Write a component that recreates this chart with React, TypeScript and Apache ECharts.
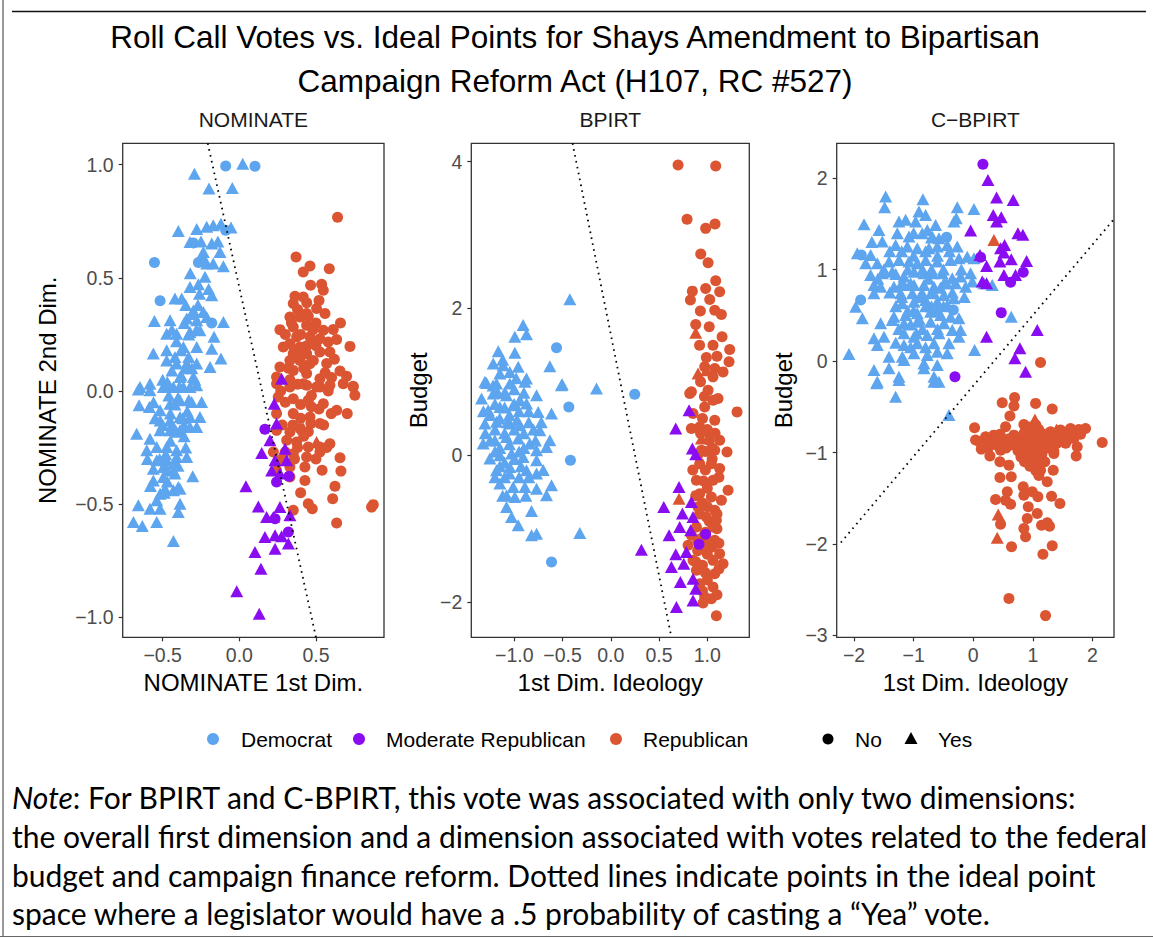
import React, { useEffect, useRef } from "react";
import * as echarts from "echarts";

type Pt = [number, number];

// Party colours
const DEM_COLOR = "#5DA5EE";
const MOD_COLOR = "#8A0CF0";
const REP_COLOR = "#DC5532";

// Axis tick positions
const NOM_X_TICKS = [-0.5, 0, 0.5];
const NOM_Y_TICKS = [-1, -0.5, 0, 0.5, 1];
const BP_X_TICKS = [-1, -0.5, 0, 0.5, 1];
const BP_Y_TICKS = [-2, 0, 2, 4];
const CB_X_TICKS = [-2, -1, 0, 1, 2];
const CB_Y_TICKS = [-3, -2, -1, 0, 1, 2];

const PANEL_TITLES = ["NOMINATE", "BPIRT", "C\u2212BPIRT"];
const X_TITLES = ["NOMINATE 1st Dim.", "1st Dim. Ideology", "1st Dim. Ideology"];
const Y_TITLES = ["NOMINATE 2nd Dim.", "Budget", "Budget"];
const PARTIES = ["Democrat", "Moderate Republican", "Republican"];
const VOTES = ["No", "Yes"];

// ---------- NOMINATE ----------
const NOM_DEM_YES: Pt[] = [
  [0.022, 1.004], [-0.293, 0.96], [-0.198, 0.894], [-0.046, 0.897], [-0.398, 0.707], [-0.278, 0.716],
  [-0.213, 0.725], [-0.17, 0.732], [-0.12, 0.739], [-0.054, 0.722], [-0.322, 0.658], [-0.18, 0.651],
  [-0.235, 0.614], [-0.126, 0.614], [-0.213, 0.563], [-0.17, 0.563], [-0.104, 0.551], [-0.224, 0.504],
  [-0.322, 0.459], [-0.267, 0.471], [-0.18, 0.423], [-0.42, 0.408], [-0.376, 0.408], [-0.3, 0.356],
  [-0.235, 0.349], [-0.554, 0.309], [-0.452, 0.312], [-0.343, 0.32], [-0.278, 0.312], [-0.213, 0.327],
  [-0.104, 0.305], [-0.474, 0.253], [-0.409, 0.253], [-0.322, 0.261], [-0.257, 0.268], [-0.165, 0.239],
  [-0.561, 0.165], [-0.474, 0.18], [-0.365, 0.194], [-0.278, 0.194], [-0.18, 0.187], [-0.474, 0.135],
  [-0.409, 0.121], [-0.343, 0.121], [-0.278, 0.121], [-0.191, 0.106], [-0.12, 0.143], [-0.387, 0.062],
  [-0.3, 0.062], [-0.648, 0.018], [-0.583, 0.032], [-0.496, 0.018], [-0.43, 0.018], [-0.322, 0.018],
  [-0.659, 0.006], [-0.583, 0.003], [-0.452, 0.018], [-0.365, 0.018], [-0.278, 0.025], [-0.654, -0.063],
  [-0.587, -0.071], [-0.517, -0.085], [-0.452, -0.056], [-0.387, -0.041], [-0.311, -0.049], [-0.246, -0.049],
  [-0.517, -0.13], [-0.452, -0.13], [-0.387, -0.115], [-0.322, -0.115], [-0.257, -0.115], [-0.67, -0.189],
  [-0.583, -0.211], [-0.517, -0.174], [-0.452, -0.174], [-0.387, -0.174], [-0.322, -0.159], [-0.278, -0.159],
  [-0.604, -0.262], [-0.539, -0.247], [-0.474, -0.247], [-0.409, -0.262], [-0.539, -0.306], [-0.474, -0.306],
  [-0.409, -0.292], [-0.343, -0.292], [-0.561, -0.343], [-0.496, -0.336], [-0.43, -0.351], [-0.561, -0.395],
  [-0.496, -0.38], [-0.42, -0.365], [-0.304, -0.377], [-0.485, -0.432], [-0.398, -0.424], [-0.517, -0.454],
  [-0.43, -0.439], [-0.387, -0.432], [-0.539, -0.483], [-0.387, -0.498], [-0.659, -0.505], [-0.583, -0.52],
  [-0.517, -0.52], [-0.398, -0.535], [-0.691, -0.579], [-0.633, -0.596], [-0.539, -0.579], [-0.43, -0.663],
  [-0.46, -0.02], [-0.4, -0.03], [-0.34, -0.09], [-0.44, -0.15], [-0.36, -0.2], [-0.48, -0.28],
  [-0.43, -0.32], [-0.38, 0.07], [-0.44, 0.09], [-0.33, 0.15], [-0.41, 0.22], [-0.36, 0.3],
  [-0.3, 0.34], [-0.26, 0.43], [-0.23, 0.58], [-0.29, 0.05], [-0.5, 0.05], [-0.55, -0.12],
  [-0.6, -0.3], [-0.47, -0.4], [-0.42, -0.06], [-0.37, -0.12], [-0.45, -0.1], [-0.5, -0.15],
  [-0.41, -0.18], [-0.35, -0.25], [-0.45, -0.22], [-0.52, -0.3], [-0.47, -0.35], [-0.4, -0.33],
  [-0.33, -0.04], [-0.39, 0.02], [-0.47, 0.04], [-0.35, 0.1], [-0.42, 0.15], [-0.31, 0.1],
  [-0.38, 0.18], [-0.44, 0.27], [-0.33, 0.25], [-0.28, 0.27], [-0.35, 0.38], [-0.27, 0.38],
  [-0.2, 0.45], [-0.32, 0.52], [-0.25, 0.66], [-0.14, 0.66], [-0.56, -0.05], [-0.49, -0.45],
  [-0.58, -0.42], [-0.36, -0.15],
];
const NOM_DEM_NO: Pt[] = [
  [-0.089, 0.994], [0.102, 0.993], [-0.089, 0.71], [-0.3, 0.654], [-0.554, 0.567], [-0.267, 0.567],
  [-0.517, 0.399], [-0.18, 0.3],
];
const NOM_MOD_YES: Pt[] = [
  [0.228, -0.056], [0.243, -0.144], [0.2, -0.218], [0.146, -0.274], [0.298, -0.255], [0.233, -0.306],
  [0.309, -0.306], [0.211, -0.351], [0.265, -0.365], [0.043, -0.421], [0.124, -0.51], [0.265, -0.513],
  [0.33, -0.549], [0.178, -0.557], [0.222, -0.557], [0.167, -0.645], [0.233, -0.637], [0.276, -0.642],
  [0.32, -0.674], [0.233, -0.697], [0.102, -0.711], [0.141, -0.785], [-0.017, -0.885], [0.13, -0.984],
  [0.276, 0.054],
];
const NOM_MOD_NO: Pt[] = [
  [0.167, -0.169], [0.243, -0.402], [0.324, -0.377], [0.233, -0.564], [0.32, -0.623],
];
const NOM_REP_YES: Pt[] = [[0.417, -0.166], [0.504, -0.225]];
const NOM_REP_NO: Pt[] = [
  [0.641, 0.767], [0.37, 0.592], [0.461, 0.552], [0.417, 0.526], [0.587, 0.54], [0.465, 0.467],
  [0.537, 0.471], [0.548, 0.445], [0.363, 0.418], [0.417, 0.415], [0.352, 0.386], [0.504, 0.364],
  [0.559, 0.342], [0.439, 0.342], [0.396, 0.327], [0.33, 0.327], [0.265, 0.271], [0.352, 0.283],
  [0.439, 0.29], [0.548, 0.268], [0.613, 0.272], [0.722, 0.197], [0.635, 0.227], [0.374, 0.239],
  [0.461, 0.239], [0.526, 0.231], [0.33, 0.209], [0.396, 0.194], [0.483, 0.209], [0.58, 0.216],
  [0.287, 0.194], [0.352, 0.165], [0.439, 0.165], [0.526, 0.172], [0.591, 0.172], [0.483, 0.135],
  [0.396, 0.135], [0.33, 0.135], [0.57, 0.121], [0.657, 0.088], [0.7, 0.065], [0.265, 0.106],
  [0.352, 0.091], [0.439, 0.077], [0.526, 0.054], [0.602, 0.059], [0.743, 0.021], [0.243, 0.062],
  [0.33, 0.032], [0.417, 0.032], [0.504, 0.018], [0.243, 0.032], [0.33, 0.018], [0.439, 0.025],
  [0.526, 0.018], [0.591, 0.025], [0.678, 0.032], [0.743, 0.018], [0.754, -0.019], [0.254, -0.027],
  [0.352, -0.034], [0.45, -0.041], [0.548, -0.056], [0.635, -0.085], [0.704, -0.1], [0.243, -0.1],
  [0.352, -0.1], [0.461, -0.115], [0.526, -0.144], [0.243, -0.174], [0.33, -0.181], [0.396, -0.166],
  [0.467, -0.144], [0.309, -0.218], [0.374, -0.225], [0.45, -0.247], [0.526, -0.247], [0.591, -0.233],
  [0.352, -0.277], [0.439, -0.292], [0.526, -0.27], [0.657, -0.295], [0.33, -0.336], [0.428, -0.336],
  [0.663, -0.354], [0.33, -0.38], [0.428, -0.395], [0.624, -0.421], [0.609, -0.476], [0.45, -0.498],
  [0.476, -0.52], [0.352, -0.527], [0.635, -0.583], [0.863, -0.513], [0.874, -0.502], [0.243, -0.351],
  [0.265, -0.306], [0.222, -0.27], [0.4, 0.25], [0.44, 0.2], [0.48, 0.27], [0.36, 0.18],
  [0.42, 0.1], [0.38, 0.03], [0.47, -0.02], [0.52, -0.08], [0.4, -0.06], [0.3, -0.05],
  [0.56, 0.08], [0.45, 0.33], [0.5, 0.3], [0.42, -0.2], [0.36, -0.3], [0.55, -0.15],
  [0.6, -0.1], [0.33, 0.05], [0.3, 0.25], [0.34, 0.3], [0.38, 0.36], [0.44, 0.39],
  [0.5, 0.2], [0.46, 0.12], [0.4, 0.16], [0.32, 0.1], [0.27, 0.0], [0.35, -0.15],
  [0.4, -0.12], [0.47, -0.07], [0.5, -0.3], [0.45, -0.18], [0.38, -0.25], [0.3, -0.27],
  [0.58, 0.0], [0.62, 0.14], [0.66, 0.3], [0.52, 0.4], [0.28, -0.15], [0.54, -0.35],
  [0.4, -0.45], [0.57, -0.25],
];
const NOM_CUT: Pt[] = [[-0.206, 1.094], [0.5, -1.088]];

// ---------- BPIRT ----------
const BP_DEM_YES: Pt[] = [
  [-0.908, 1.773], [-0.994, 1.614], [-0.873, 1.65], [-0.424, 2.127], [-1.166, 1.418], [-0.994, 1.395],
  [-1.218, 1.25], [-1.115, 1.227], [-0.959, 1.205], [-1.149, 1.114], [-1.046, 1.136], [-0.873, 1.045],
  [-0.631, 1.214], [-0.504, 0.968], [-1.287, 0.986], [-0.148, 0.909], [-1.304, 1.0], [-1.184, 0.977],
  [-1.046, 0.977], [-0.89, 1.0], [-0.511, 0.955], [-1.339, 0.773], [-1.218, 0.841], [-1.08, 0.818],
  [-0.942, 0.75], [-0.769, 0.818], [-1.27, 0.614], [-1.149, 0.659], [-1.011, 0.682], [-0.873, 0.705],
  [-0.752, 0.591], [-0.614, 0.568], [-1.304, 0.432], [-1.184, 0.455], [-1.046, 0.432], [-0.942, 0.409],
  [-0.735, 0.341], [-0.631, 0.205], [-1.322, 0.159], [-1.201, 0.205], [-1.08, 0.25], [-0.959, 0.227],
  [-0.839, 0.159], [-0.769, 0.068], [-0.666, 0.114], [-1.253, -0.045], [-1.149, 0.0], [-1.028, 0.023],
  [-0.908, -0.023], [-0.769, -0.068], [-1.184, -0.205], [-1.046, -0.159], [-0.873, -0.205], [-0.769, -0.25],
  [-1.149, -0.386], [-1.011, -0.432], [-0.89, -0.432], [-0.769, -0.455], [-0.666, -0.545], [-0.614, -0.409],
  [-1.08, -0.545], [-0.994, -0.568], [-1.08, -0.705], [-0.821, -0.759], [-1.028, -0.841], [-0.959, -0.955],
  [-0.821, -1.091], [-0.769, -1.068], [-0.321, -1.059], [-1.1, 0.3], [-1.0, 0.35], [-0.95, 0.05],
  [-1.1, -0.1], [-1.15, 0.5], [-1.05, 0.55], [-0.95, 0.6], [-1.2, 0.35], [-1.25, 0.2],
  [-1.15, 0.1], [-1.05, 0.15], [-1.0, -0.05], [-0.9, 0.3], [-0.85, 0.45], [-1.1, -0.3],
  [-0.95, -0.3], [-1.2, 0.7], [-1.0, 0.9], [-1.1, 0.85], [-1.2, 0.05], [-1.3, 0.3],
  [-1.25, 0.55], [-1.1, 0.65], [-1.0, 0.7], [-0.9, 0.85], [-0.85, 0.6], [-0.8, 0.35],
  [-0.78, 0.2], [-0.9, 0.1], [-1.05, -0.25], [-1.15, -0.15], [-0.93, -0.15], [-0.85, -0.3],
  [-1.2, -0.3], [-1.07, 0.45], [-1.17, 0.85], [-1.22, 0.95], [-1.32, 0.6], [-0.97, 0.48],
  [-0.88, -0.55], [-1.12, -0.55], [-0.72, 0.45], [-0.7, -0.2], [-0.98, 1.05], [-1.12, 1.3],
];
const BP_DEM_NO: Pt[] = [
  [0.248, 0.832], [-0.435, 0.659], [-0.418, -0.068], [-0.614, -1.455], [-0.562, 1.464],
];
const BP_MOD_YES: Pt[] = [
  [0.811, 0.614], [0.673, 0.364], [0.845, 0.091], [0.88, 0.014], [0.707, -0.432], [0.549, -0.705],
  [0.835, -0.636], [0.742, -0.795], [0.852, -0.841], [0.714, -0.977], [0.828, -1.023], [0.604, -1.091],
  [0.317, -1.286], [0.673, -1.35], [0.783, -1.318], [0.628, -1.523], [0.756, -1.477], [0.852, -1.682],
  [0.721, -1.727], [0.88, -1.818], [0.852, -1.977], [0.68, -2.068],
];
const BP_MOD_NO: Pt[] = [[0.983, -1.077], [0.914, -1.214]];
const BP_REP_YES: Pt[] = [[0.88, 1.668], [0.904, 1.114], [0.99, 1.159], [0.707, -0.591], [0.939, 0.227]];
const BP_REP_NO: Pt[] = [
  [0.697, 3.955], [1.087, 3.941], [0.79, 3.214], [0.983, 3.091], [1.08, 3.15], [0.932, 2.741],
  [1.008, 2.623], [0.845, 2.236], [1.087, 2.377], [0.983, 2.273], [0.825, 2.114], [1.025, 2.123],
  [1.128, 2.227], [1.077, 1.977], [1.146, 1.918], [0.928, 1.964], [0.88, 1.782], [1.153, 1.614],
  [1.059, 1.5], [1.232, 1.441], [0.99, 1.332], [1.225, 1.273], [0.973, 1.205], [1.077, 1.182],
  [1.163, 1.136], [1.059, 1.068], [0.835, 0.864], [1.008, 0.886], [0.818, 0.841], [1.111, 0.773],
  [0.852, 0.568], [0.973, 0.659], [1.059, 0.75], [1.308, 0.591], [0.921, 0.386], [1.077, 0.477],
  [0.835, 0.364], [1.025, 0.295], [1.128, 0.205], [0.939, 0.068], [1.077, 0.068], [1.204, 0.045],
  [0.921, -0.114], [1.042, -0.114], [1.128, -0.182], [0.887, -0.341], [1.059, -0.341], [1.215, -0.477],
  [0.921, -0.523], [1.042, -0.568], [1.146, -0.614], [0.904, -0.705], [1.077, -0.75], [0.99, -0.841],
  [1.094, -0.886], [0.887, -0.977], [1.059, -0.977], [0.835, -1.091], [0.956, -1.114], [1.077, -1.159],
  [0.801, -1.227], [0.973, -1.273], [1.128, -1.341], [0.852, -1.432], [1.059, -1.432], [1.163, -1.477],
  [0.887, -1.568], [1.077, -1.614], [0.921, -1.75], [1.059, -1.795], [0.973, -1.932], [1.042, -1.955],
  [0.956, -2.014], [1.094, -2.186], [0.95, 0.5], [1.02, 0.2], [0.98, -0.2], [1.0, -0.45],
  [0.95, -0.65], [1.02, -0.9], [0.98, -1.05], [1.0, -1.35], [0.95, -1.5], [1.05, -1.25],
  [0.92, -0.8], [1.05, 0.1], [0.97, 0.8], [1.0, -1.7], [0.9, -1.3], [1.1, -1.0],
  [0.93, 0.3], [1.0, 0.35], [1.08, 0.3], [0.9, 0.0], [0.98, 0.05], [1.12, -0.3],
  [0.96, -0.35], [0.88, -0.55], [1.0, -0.7], [1.1, -0.8], [0.9, -1.15], [1.0, -1.2],
  [1.12, -1.2], [0.88, -1.45], [0.98, -1.6], [1.12, -1.55], [0.95, -1.85], [1.1, -1.9],
  [0.93, 1.0], [1.1, 1.35], [0.92, 1.5], [1.02, 1.75], [1.05, -0.05], [0.85, -0.2],
];
const BP_CUT: Pt[] = [[-0.396, 4.25], [0.628, -2.48]];

// ---------- C-BPIRT ----------
const CB_DEM_YES: Pt[] = [
  [-1.469, 1.798], [-1.486, 1.681], [-0.844, 1.769], [-0.911, 1.634], [-0.799, 1.597], [-0.268, 1.681],
  [0.011, 1.663], [-0.285, 1.561], [-1.832, 1.495], [-1.246, 1.524], [-1.134, 1.543], [-0.966, 1.524],
  [-0.771, 1.433], [-0.631, 1.488], [-0.324, 1.524], [-1.581, 1.433], [-1.274, 1.397], [-1.078, 1.36],
  [-0.855, 1.397], [-0.687, 1.36], [-0.575, 1.342], [-1.944, 1.178], [-1.721, 1.16], [-1.525, 1.306],
  [-1.302, 1.269], [-1.106, 1.251], [-0.939, 1.233], [-0.743, 1.233], [-0.603, 1.251], [-0.436, 1.269],
  [-0.268, 1.251], [-0.101, 1.141], [-1.804, 1.069], [-1.609, 1.069], [-1.413, 1.087], [-1.246, 1.105],
  [-1.078, 1.087], [-0.939, 1.069], [-0.799, 1.105], [-0.603, 1.087], [-0.38, 1.105], [-0.24, 1.123],
  [0.011, 1.123], [-1.721, 0.941], [-1.525, 0.959], [-1.358, 0.977], [-1.162, 0.923], [-0.994, 0.977],
  [-0.827, 0.959], [-0.687, 0.959], [-0.52, 0.959], [-0.352, 0.904], [-0.212, 0.923], [-0.045, 0.959],
  [-1.665, 0.832], [-1.553, 0.813], [-1.33, 0.813], [-1.162, 0.832], [-0.994, 0.832], [-0.827, 0.832],
  [-0.659, 0.813], [-0.492, 0.85], [-0.296, 0.85], [-0.128, 0.813], [-0.017, 0.868], [0.179, 0.85],
  [0.318, 0.832], [-1.665, 0.74], [-1.218, 0.74], [-1.022, 0.74], [-0.855, 0.74], [-0.659, 0.74],
  [-0.492, 0.722], [-0.324, 0.686], [-1.972, 0.594], [-1.19, 0.631], [-0.994, 0.649], [-0.799, 0.667],
  [-0.603, 0.649], [-0.436, 0.613], [-1.86, 0.467], [-1.33, 0.485], [-1.134, 0.503], [-0.939, 0.522],
  [-0.715, 0.54], [-0.547, 0.503], [-0.38, 0.485], [-0.24, 0.467], [-1.553, 0.412], [-1.358, 0.449],
  [-1.162, 0.412], [-0.939, 0.43], [-0.715, 0.43], [-0.492, 0.412], [-0.352, 0.339], [-0.212, 0.339],
  [-1.665, 0.248], [-1.497, 0.266], [-1.162, 0.303], [-0.994, 0.266], [-0.771, 0.284], [-0.575, 0.303],
  [-0.24, 0.266], [-1.609, 0.175], [-1.162, 0.175], [-0.939, 0.193], [-0.659, 0.193], [-0.408, 0.193],
  [0.022, 0.12], [-2.084, 0.077], [-1.413, 0.047], [-1.19, 0.047], [-0.994, 0.084], [-0.771, 0.066],
  [-0.603, 0.102], [-0.436, 0.084], [-1.665, -0.098], [-1.413, -0.08], [-1.162, 0.011], [-0.827, -0.026],
  [-0.603, -0.044], [-1.246, -0.171], [-0.827, -0.08], [-0.659, -0.171], [-1.609, -0.226], [-1.62, -0.244],
  [-1.246, -0.208], [-1.302, -0.39], [-0.659, -0.226], [-0.575, -0.226], [-0.408, -0.591], [0.637, 0.485],
  [-0.9, 0.7], [-0.8, 0.6], [-1.0, 0.55], [-0.7, 0.75], [-0.75, 0.9], [-1.05, 0.85],
  [-0.9, 0.45], [-0.6, 0.55], [-0.85, 1.0], [-1.1, 1.0], [-1.2, 0.85], [-0.5, 1.0],
  [-1.3, 0.6], [-0.95, 0.3], [-1.4, 1.2], [-1.2, 1.2], [-1.0, 1.15], [-0.8, 1.2],
  [-0.6, 1.15], [-0.4, 1.2], [-1.5, 1.0], [-1.3, 0.95], [-0.7, 1.0], [-0.45, 0.85],
  [-1.4, 0.75], [-1.2, 0.7], [-0.55, 0.8], [-0.35, 0.75], [-1.1, 0.55], [-0.7, 0.6],
  [-0.5, 0.6], [-0.85, 0.35], [-0.6, 0.35], [-1.05, 0.4], [-1.25, 0.35], [-0.8, 0.15],
  [-1.05, 0.15], [-1.3, 0.2], [-0.7, 1.35], [-1.0, 1.4], [-0.2, 1.0], [-0.15, 0.7],
  [-1.6, 0.9], [-1.7, 1.3],
];
const CB_DEM_NO: Pt[] = [[-1.877, 1.16], [-1.888, 0.667], [-0.447, 1.353], [-0.335, 0.558]];
const CB_MOD_YES: Pt[] = [
  [0.246, 1.98], [0.391, 1.787], [0.67, 1.761], [0.335, 1.597], [0.469, 1.572], [0.391, 1.524],
  [-0.045, 1.426], [0.749, 1.397], [0.832, 1.379], [0.525, 1.269], [0.458, 1.233], [0.112, 1.16],
  [0.223, 1.039], [0.514, 1.185], [0.637, 1.112], [0.447, 1.087], [0.894, 1.094], [0.514, 0.941],
  [0.709, 0.941], [0.151, 0.868], [0.223, 0.85], [0.223, 0.266], [1.073, 0.339], [0.782, 0.139],
  [0.698, 0.029], [0.877, -0.117],
];
const CB_MOD_NO: Pt[] = [
  [0.162, 2.152], [0.123, 1.134], [0.838, 0.97], [0.626, 0.861], [0.469, 0.529], [-0.307, -0.171],
];
const CB_REP_YES: Pt[] = [[0.346, 1.324], [1.034, -0.638], [0.419, -1.678], [0.402, -1.933], [1.397, -0.748]];
const CB_REP_NO: Pt[] = [
  [1.128, -0.015], [0.693, -0.398], [0.486, -0.456], [0.682, -0.492], [1.045, -0.463], [1.324, -0.525],
  [0.615, -0.602], [0.022, -0.729], [0.542, -0.718], [0.849, -0.693], [0.039, -0.864], [0.134, -0.963],
  [0.279, -1.039], [0.458, -0.974], [0.207, -0.828], [0.346, -0.81], [0.682, -0.81], [0.849, -0.791],
  [1.073, -0.755], [1.296, -0.773], [1.464, -0.755], [1.631, -0.737], [1.771, -0.748], [1.883, -0.737],
  [1.687, -0.846], [1.52, -0.883], [1.296, -0.901], [1.128, -0.919], [0.961, -0.937], [0.793, -0.937],
  [0.626, -0.919], [0.514, -0.937], [0.458, -0.864], [1.743, -0.937], [1.726, -1.039], [2.162, -0.89],
  [0.447, -1.101], [0.598, -1.138], [0.86, -1.101], [1.128, -0.992], [1.352, -1.01], [1.128, -1.193],
  [1.341, -1.193], [1.24, -1.32], [0.447, -1.273], [0.637, -1.266], [0.838, -1.375], [0.989, -1.43],
  [1.084, -1.484], [1.313, -1.477], [1.453, -1.557], [0.849, -1.466], [0.57, -1.43], [0.374, -1.513],
  [0.542, -1.521], [0.626, -1.565], [0.922, -1.594], [1.073, -1.667], [0.905, -1.721], [0.849, -1.831],
  [0.877, -1.922], [1.145, -1.794], [1.24, -1.769], [1.279, -1.805], [0.458, -1.783], [0.642, -2.031],
  [1.324, -2.02], [1.168, -2.112], [0.598, -2.597], [1.212, -2.783], [0.7, -0.85], [0.8, -0.88],
  [0.9, -0.85], [1.0, -0.88], [1.1, -0.85], [1.2, -0.88], [1.0, -0.95], [0.9, -1.0],
  [1.15, -0.8], [1.05, -1.05], [0.95, -1.15], [1.1, -1.25], [1.3, -0.85], [1.4, -0.9],
  [0.6, -0.85], [0.55, -0.95], [1.25, -0.95], [0.85, -0.8], [1.0, -0.78], [1.2, -1.1],
  [0.3, -0.9], [0.2, -0.88], [1.6, -0.85], [1.5, -0.8], [0.75, -0.98], [1.05, -0.7],
  [0.95, -0.72], [0.65, -0.9], [0.75, -0.9], [0.85, -0.92], [0.95, -0.9], [1.05, -0.92],
  [1.15, -0.92], [1.25, -0.88], [1.35, -0.8], [1.45, -0.85], [1.55, -0.9], [0.5, -0.88],
  [0.4, -0.92], [0.45, -0.8], [0.25, -0.95], [0.1, -0.88], [0.9, -0.78], [1.1, -0.75],
  [1.2, -0.8], [1.0, -1.0], [1.1, -1.1], [0.95, -1.05], [1.15, -1.02], [1.0, -1.15],
  [1.05, -1.2], [1.35, -0.98], [1.65, -0.78], [1.8, -0.8], [0.8, -1.05],
];
const CB_CUT: Pt[] = [[-2.22, -1.984], [2.358, 1.55]];

const NOTE_LINES = [
  "{i|Note}: For BPIRT and C-BPIRT, this vote was associated with only two dimensions:",
  "the overall first dimension and a dimension associated with votes related to the federal",
  "budget and campaign finance reform. Dotted lines indicate points in the ideal point",
  "space where a legislator would have a .5 probability of casting a \u201cYea\u201d vote.",
];

const SANS = "'Liberation Sans', Arial, Helvetica, sans-serif";
const NOTE_FONT = "Lato, 'Noto Sans', sans-serif";

const fmt = (decimals: number) => (v: number) => {
  const s = Math.abs(v).toFixed(decimals);
  return v < 0 ? "\u2212" + s : s;
};

// Plot-box geometry for the three panels (pixels)
const BOXES = [
  { left: 122.7, width: 261.3, xMin: -0.761, xMax: 0.944, yMin: -1.088, yMax: 1.094 },
  { left: 471.3, width: 278, xMin: -1.445, xMax: 1.435, yMin: -2.48, yMax: 4.25 },
  { left: 836.7, width: 277.3, xMin: -2.29, xMax: 2.36, yMin: -3.02, yMax: 2.38 },
];
const BOX_TOP = 143.3;
const BOX_H = 494;

export default function App() {
  const ref = useRef<HTMLDivElement>(null);

  useEffect(() => {
    if (!ref.current) return;
    const chart = echarts.init(ref.current, undefined, { renderer: "svg" });

    const panels = [
      {
        xt: NOM_X_TICKS, yt: NOM_Y_TICKS, xd: 1, yd: 1, cut: NOM_CUT,
        groups: [
          [NOM_DEM_NO, NOM_DEM_YES, DEM_COLOR],
          [NOM_REP_NO, NOM_REP_YES, REP_COLOR],
          [NOM_MOD_NO, NOM_MOD_YES, MOD_COLOR],
        ],
      },
      {
        xt: BP_X_TICKS, yt: BP_Y_TICKS, xd: 1, yd: 0, cut: BP_CUT,
        groups: [
          [BP_DEM_NO, BP_DEM_YES, DEM_COLOR],
          [BP_REP_NO, BP_REP_YES, REP_COLOR],
          [BP_MOD_NO, BP_MOD_YES, MOD_COLOR],
        ],
      },
      {
        xt: CB_X_TICKS, yt: CB_Y_TICKS, xd: 0, yd: 0, cut: CB_CUT,
        groups: [
          [CB_DEM_NO, CB_DEM_YES, DEM_COLOR],
          [CB_REP_NO, CB_REP_YES, REP_COLOR],
          [CB_MOD_NO, CB_MOD_YES, MOD_COLOR],
        ],
      },
    ];

    const grid: any[] = [];
    const xAxis: any[] = [];
    const yAxis: any[] = [];
    const series: any[] = [];
    const tickStyle = { show: true, inside: false, length: 4, lineStyle: { color: "#333", width: 1.2 } };
    const labelStyle = { color: "#4D4D4D", fontSize: 19.5, fontFamily: SANS };

    panels.forEach((p, i) => {
      const b = BOXES[i];
      grid.push({
        left: b.left, top: BOX_TOP, width: b.width, height: BOX_H,
        show: true, borderColor: "#333", borderWidth: 1.3, backgroundColor: "#fff",
      });
      xAxis.push({
        gridIndex: i, type: "value", min: b.xMin, max: b.xMax, position: "bottom",
        axisLine: { show: false, onZero: false }, splitLine: { show: false },
        axisTick: { ...tickStyle, customValues: p.xt },
        axisLabel: { ...labelStyle, margin: 8, customValues: p.xt, formatter: fmt(p.xd) },
      });
      yAxis.push({
        gridIndex: i, type: "value", min: b.yMin, max: b.yMax, position: "left",
        axisLine: { show: false, onZero: false }, splitLine: { show: false },
        axisTick: { ...tickStyle, customValues: p.yt },
        axisLabel: { ...labelStyle, margin: 9, customValues: p.yt, formatter: fmt(p.yd) },
      });
      p.groups.forEach((g: any) => {
        const [no, yes, color] = g;
        series.push({
          type: "scatter", xAxisIndex: i, yAxisIndex: i, data: no, symbol: "circle",
          symbolSize: 11, itemStyle: { color, opacity: 1 }, silent: true, z: 2,
        });
        series.push({
          type: "scatter", xAxisIndex: i, yAxisIndex: i, data: yes, symbol: "triangle",
          symbolSize: [13, 12], itemStyle: { color, opacity: 1 }, silent: true, z: 2,
        });
      });
      series.push({
        type: "line", xAxisIndex: i, yAxisIndex: i, data: p.cut, symbol: "none", clip: true,
        lineStyle: { color: "#000", width: 1.8, type: [1.6, 4.4] }, silent: true, z: 5,
      });
    });

    const graphic: any[] = [
      // page frame
      { type: "line", shape: { x1: 3, y1: 0, x2: 3, y2: 937 }, style: { stroke: "#555", lineWidth: 1.2 } },
      { type: "line", shape: { x1: 12, y1: 11.5, x2: 1146, y2: 11.5 }, style: { stroke: "#111", lineWidth: 1.3 } },
      { type: "line", shape: { x1: 0, y1: 936.5, x2: 1153, y2: 936.5 }, style: { stroke: "#666", lineWidth: 1.2 } },
      // title
      {
        type: "text", x: 575, y: 37,
        style: { text: "Roll Call Votes vs. Ideal Points for Shays Amendment to Bipartisan", font: `31.5px ${SANS}`, fill: "#000", align: "center", verticalAlign: "middle" },
      },
      {
        type: "text", x: 575, y: 81,
        style: { text: "Campaign Reform Act (H107, RC #527)", font: `31.5px ${SANS}`, fill: "#000", align: "center", verticalAlign: "middle" },
      },
    ];

    const yTitleX = [47, 418.5, 783.5];
    BOXES.forEach((b, i) => {
      const cx = b.left + b.width / 2;
      graphic.push({
        type: "text", x: cx, y: 119,
        style: { text: PANEL_TITLES[i], font: `21px ${SANS}`, fill: "#1A1A1A", align: "center", verticalAlign: "middle" },
      });
      graphic.push({
        type: "text", x: cx, y: 682,
        style: { text: X_TITLES[i], font: `24px ${SANS}`, fill: "#000", align: "center", verticalAlign: "middle" },
      });
      graphic.push({
        type: "text", x: yTitleX[i], y: BOX_TOP + BOX_H / 2, rotation: Math.PI / 2,
        style: { text: Y_TITLES[i], font: `24px ${SANS}`, fill: "#000", align: "center", verticalAlign: "middle" },
      });
    });

    // legend
    const legendY = 739;
    const partyKeys = [
      { cx: 213, tx: 241, color: DEM_COLOR },
      { cx: 359, tx: 386, color: MOD_COLOR },
      { cx: 616, tx: 643, color: REP_COLOR },
    ];
    partyKeys.forEach((k, i) => {
      graphic.push({ type: "circle", shape: { cx: k.cx, cy: legendY, r: 6 }, style: { fill: k.color } });
      graphic.push({
        type: "text", x: k.tx, y: legendY,
        style: { text: PARTIES[i], font: `21px ${SANS}`, fill: "#000", verticalAlign: "middle" },
      });
    });
    graphic.push({ type: "circle", shape: { cx: 828, cy: legendY, r: 5.5 }, style: { fill: "#000" } });
    graphic.push({
      type: "text", x: 855, y: legendY,
      style: { text: VOTES[0], font: `21px ${SANS}`, fill: "#000", verticalAlign: "middle" },
    });
    graphic.push({
      type: "polygon", shape: { points: [[911, 732], [917.5, 744], [904.5, 744]] }, style: { fill: "#000" },
    });
    graphic.push({
      type: "text", x: 938, y: legendY,
      style: { text: VOTES[1], font: `21px ${SANS}`, fill: "#000", verticalAlign: "middle" },
    });

    // note
    const noteY = [797, 836, 875, 913];
    NOTE_LINES.forEach((t, i) => {
      graphic.push({
        type: "text", x: 12, y: noteY[i],
        style: {
          text: t, font: `30px ${NOTE_FONT}`, fill: "#000", verticalAlign: "middle",
          rich: { i: { fontStyle: "italic", fontSize: 30, fontFamily: NOTE_FONT } },
        },
      });
    });

    chart.setOption({
      animation: false,
      backgroundColor: "#fff",
      grid, xAxis, yAxis, series, graphic,
    });

    return () => chart.dispose();
  }, []);

  return (
    <div
      ref={ref}
      style={{ position: "absolute", left: 0, top: 0, width: 1153, height: 938, background: "#fff" }}
    />
  );
}
